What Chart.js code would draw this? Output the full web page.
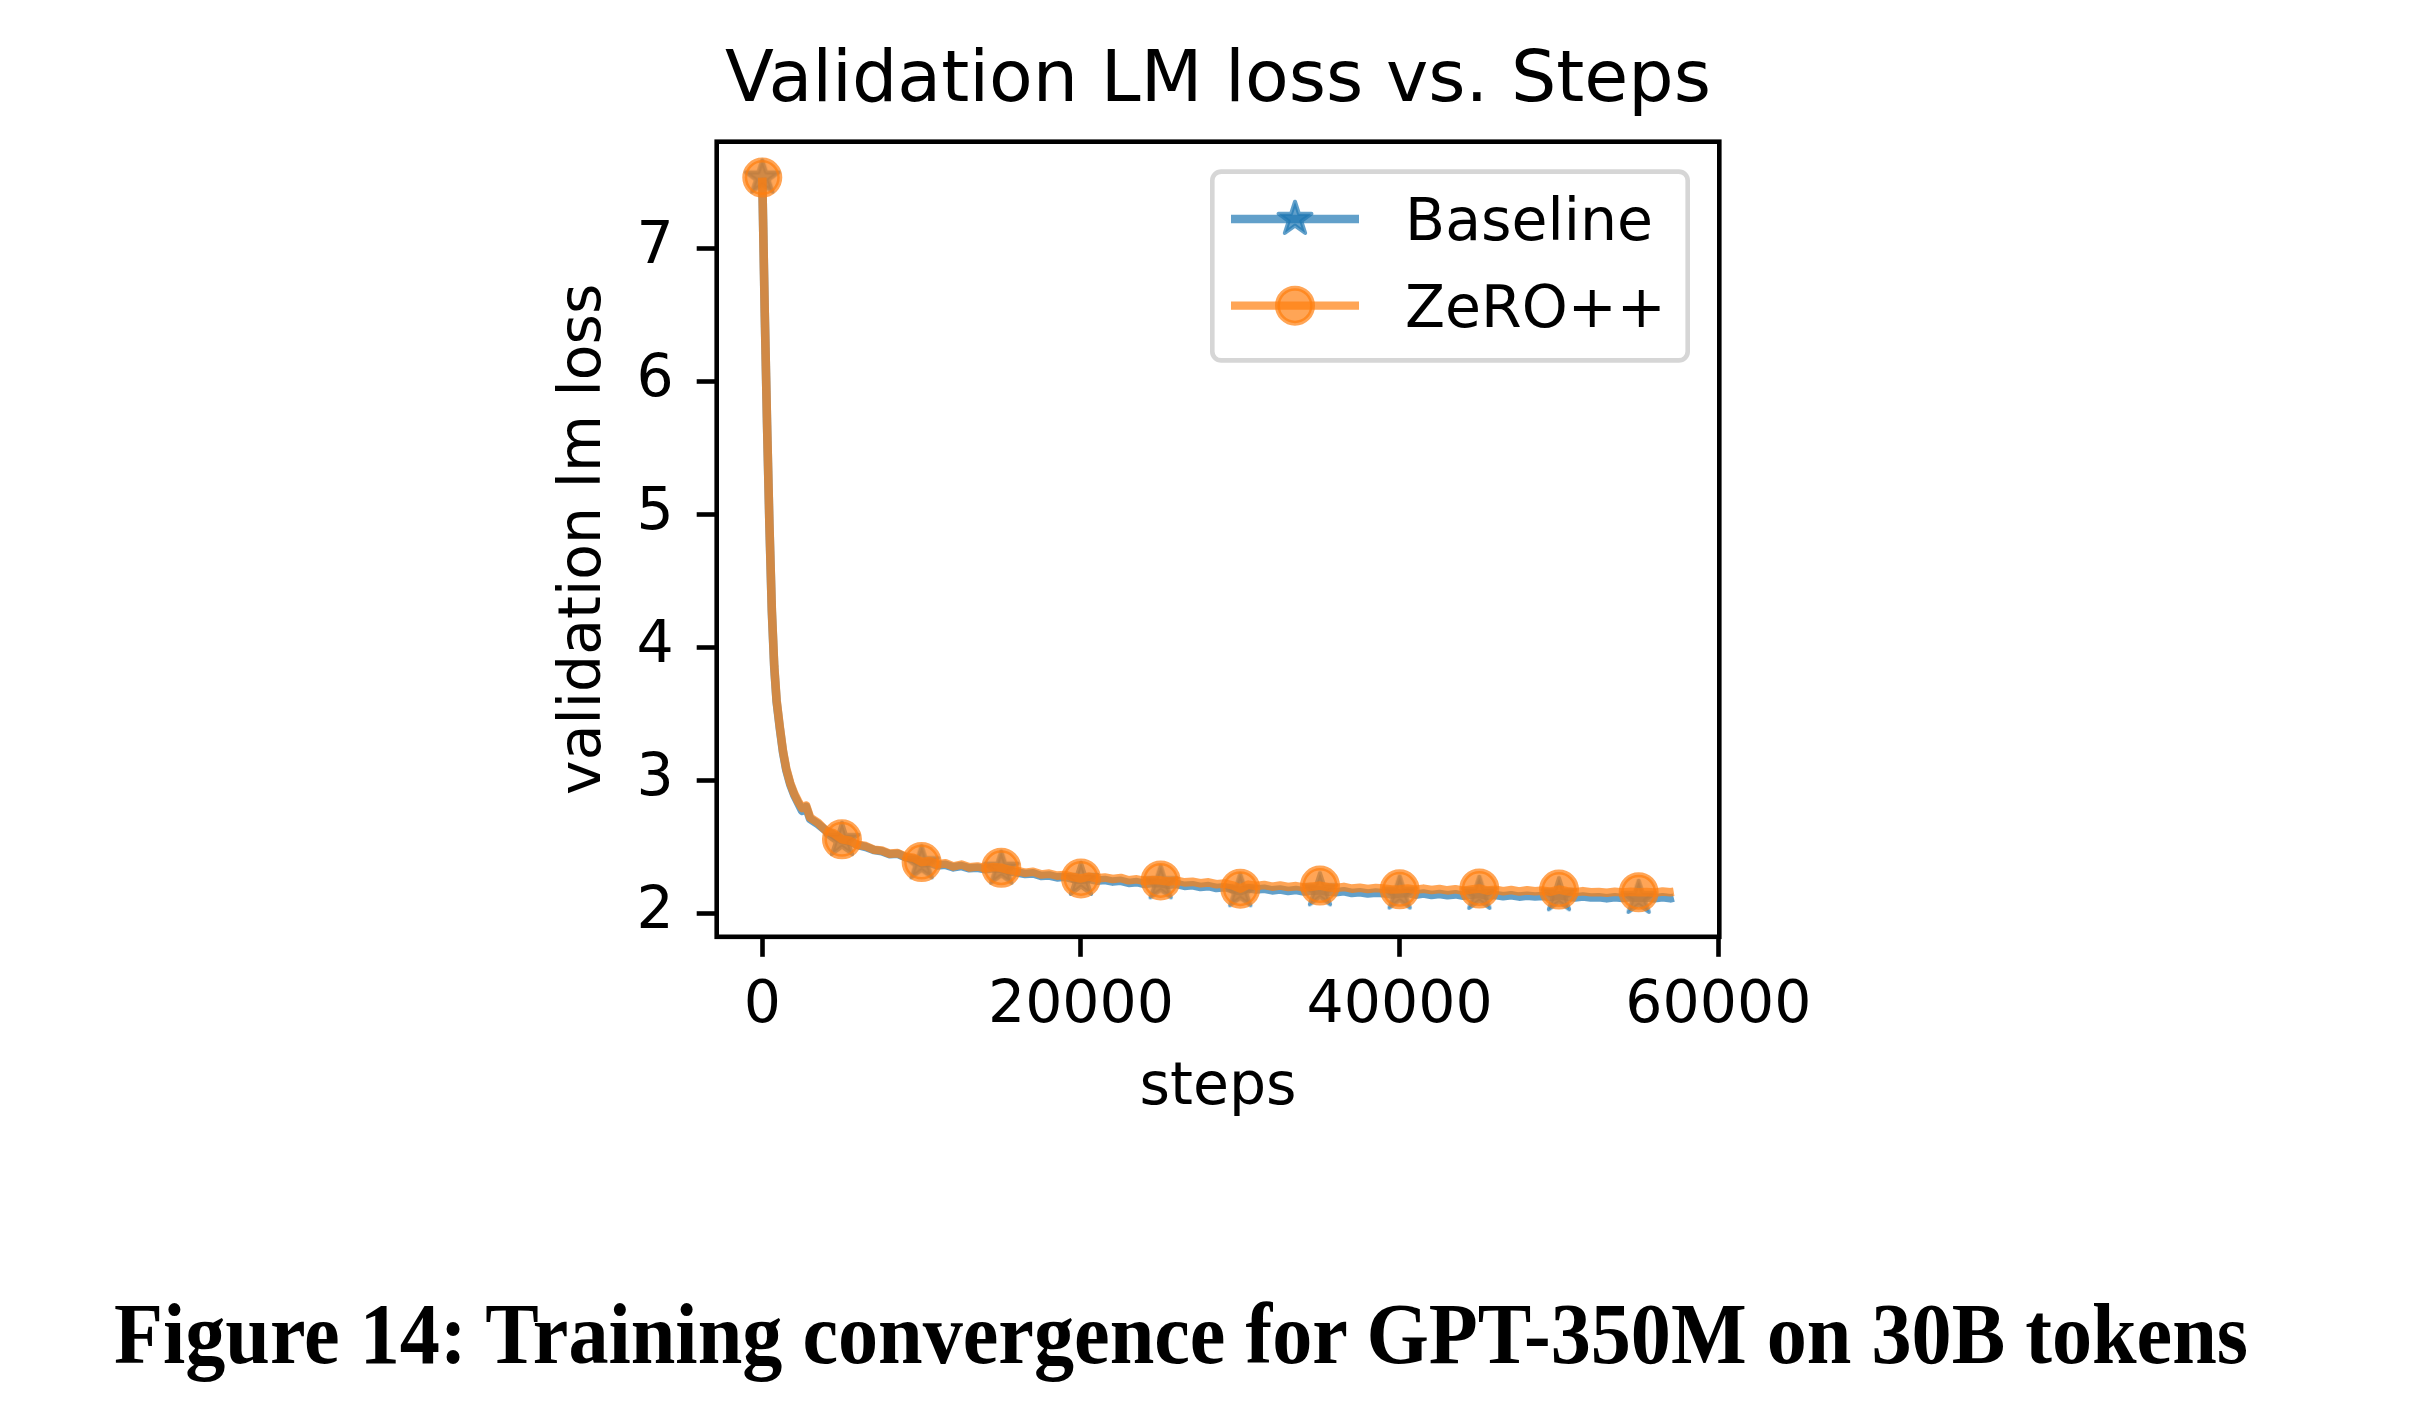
<!DOCTYPE html>
<html lang="en">
<head>
<meta charset="UTF-8">
<title>Validation LM loss vs. Steps</title>
<script src="https://cdn.jsdelivr.net/npm/chart.js"></script>
<style>
    body{
        margin: 0;
        background: #fff;
    }
    .wrap{
        position: relative;
        width: 2412px;
        height: 1418px;
    }
    #lossChart{
        position: absolute;
        left: 0;
        top: 0;
    }
    .caption{
        position: absolute;
        left: 114px;
        top: 1291px;
        font-family: "Liberation Serif", serif;
        font-weight: bold;
        font-size: 86px;
        line-height: 1;
        white-space: nowrap;
        transform-origin: 0 0;
        color: #000;
    }
</style>
</head>
<body>
<div class="wrap">
    <canvas id="lossChart" width="2412" height="1418"></canvas>
    <div class="caption" id="caption">Figure 14: Training convergence for GPT-350M on 30B tokens</div>
</div>
<script>
const steps = [
    0, 150, 300, 450, 600, 750, 900, 1100, 1300, 1500,
    1750, 2000, 2250, 2500, 2750, 3000, 3500, 4000, 4500,
    5000, 5500, 6000, 6500, 7000, 7500, 8000, 8500, 9000, 9500,
    10000, 10500, 11000, 11500, 12000, 12500, 13000, 13500, 14000, 14500,
    15000, 15500, 16000, 16500, 17000, 17500, 18000, 18500, 19000, 19500,
    20000, 20500, 21000, 21500, 22000, 22500, 23000, 23500, 24000, 24500,
    25000, 25500, 26000, 26500, 27000, 27500, 28000, 28500, 29000, 29500,
    30000, 30500, 31000, 31500, 32000, 32500, 33000, 33500, 34000, 34500,
    35000, 35500, 36000, 36500, 37000, 37500, 38000, 38500, 39000, 39500,
    40000, 40500, 41000, 41500, 42000, 42500, 43000, 43500, 44000, 44500,
    45000, 45500, 46000, 46500, 47000, 47500, 48000, 48500, 49000, 49500,
    50000, 50500, 51000, 51500, 52000, 52500, 53000, 53500, 54000, 54500,
    55000, 55500, 56000, 56500, 57000, 57200
];
const baseline = [
    7.53, 6.54, 5.67, 4.91, 4.27, 3.85, 3.59, 3.39, 3.21, 3.08,
    2.97, 2.89, 2.83, 2.77, 2.80, 2.71, 2.67, 2.62, 2.59,
    2.550, 2.540, 2.512, 2.498, 2.475, 2.466, 2.443, 2.447, 2.420, 2.410,
    2.375, 2.380, 2.360, 2.364, 2.345, 2.355, 2.338, 2.342, 2.330, 2.338,
    2.335, 2.316, 2.306, 2.295, 2.300, 2.280, 2.284, 2.270, 2.274, 2.258,
    2.250, 2.258, 2.245, 2.250, 2.238, 2.244, 2.228, 2.234, 2.220, 2.228,
    2.225, 2.214, 2.220, 2.206, 2.210, 2.198, 2.204, 2.190, 2.196, 2.182,
    2.165, 2.188, 2.178, 2.184, 2.172, 2.178, 2.168, 2.175, 2.164, 2.170,
    2.172, 2.162, 2.158, 2.165, 2.152, 2.158, 2.148, 2.155, 2.150, 2.142,
    2.148, 2.152, 2.140, 2.148, 2.138, 2.145, 2.135, 2.142, 2.132, 2.140,
    2.145, 2.132, 2.138, 2.128, 2.135, 2.125, 2.132, 2.126, 2.130, 2.122,
    2.135, 2.125, 2.118, 2.126, 2.118, 2.120, 2.112, 2.120, 2.114, 2.120,
    2.115, 2.118, 2.112, 2.120, 2.112, 2.118
];
const zeropp = [
    7.53, 6.55, 5.68, 4.92, 4.28, 3.86, 3.60, 3.40, 3.22, 3.09,
    2.98, 2.90, 2.84, 2.79, 2.81, 2.72, 2.68, 2.62, 2.60,
    2.556, 2.545, 2.515, 2.505, 2.478, 2.472, 2.448, 2.452, 2.425, 2.418,
    2.385, 2.392, 2.368, 2.375, 2.352, 2.366, 2.345, 2.352, 2.338, 2.348,
    2.342, 2.325, 2.318, 2.305, 2.312, 2.292, 2.298, 2.283, 2.288, 2.272,
    2.262, 2.275, 2.262, 2.268, 2.258, 2.265, 2.248, 2.255, 2.242, 2.250,
    2.247, 2.238, 2.245, 2.232, 2.236, 2.226, 2.232, 2.218, 2.224, 2.210,
    2.185, 2.215, 2.205, 2.212, 2.200, 2.208, 2.198, 2.204, 2.194, 2.200,
    2.208, 2.195, 2.190, 2.198, 2.185, 2.192, 2.182, 2.190, 2.185, 2.178,
    2.180, 2.186, 2.176, 2.185, 2.175, 2.182, 2.172, 2.180, 2.170, 2.178,
    2.186, 2.170, 2.176, 2.166, 2.174, 2.164, 2.172, 2.165, 2.170, 2.162,
    2.178, 2.165, 2.158, 2.166, 2.158, 2.160, 2.154, 2.162, 2.156, 2.162,
    2.158, 2.160, 2.155, 2.164, 2.158, 2.162
];
const markSteps = [0, 5000, 10000, 15000, 20000, 25000, 30000, 35000, 40000, 45000, 50000, 55000];
const xTicks = [0, 20000, 40000, 60000];
const yTicks = [2, 3, 4, 5, 6, 7];

const blue = 'rgba(31,119,180,0.7)';
const orange = 'rgba(255,127,14,0.7)';
const lineW = 8.6;
const fontPx = 58.5;

Chart.defaults.font.family = '"DejaVu Sans"';
Chart.defaults.color = '#000';

function starPath(c, cx, cy, r) {
    c.beginPath();
    for (let k = 0; k < 10; k++) {
        const rad = k % 2 ? r * 0.382 : r;
        const a = -Math.PI / 2 + k * Math.PI / 5;
        c.lineTo(cx + rad * Math.cos(a), cy + rad * Math.sin(a));
    }
    c.closePath();
}
// star marker as an image point style
const star = document.createElement('canvas');
star.width = 52;
star.height = 52;
(function () {
    const c = star.getContext('2d');
    starPath(c, 26, 26, 17.3);
    c.fillStyle = blue;
    c.fill();
    c.lineWidth = 4;
    c.lineJoin = 'round';
    c.strokeStyle = blue;
    c.stroke();
})();

const markerRadius = (r) => (ctx) => markSteps.includes(ctx.raw.x) ? r : 0;

// black box around the plot
const frame = {
    id: 'frame',
    afterDatasetsDraw(chart) {
        const {ctx, chartArea: a} = chart;
        ctx.save();
        ctx.lineWidth = 4.6;
        ctx.strokeStyle = '#000';
        ctx.strokeRect(a.left, a.top, a.right - a.left, a.bottom - a.top);
        ctx.restore();
    }
};

// matplotlib style legend in the upper right
const legendBox = {
    id: 'legendBox',
    afterDraw(chart) {
        const {ctx, chartArea: a} = chart;
        const bw = 480, bh = 193.4, lw = 4.6;
        const bx = a.right - 29.3 - bw;
        const by = a.top + 27.6;
        ctx.save();
        ctx.beginPath();
        ctx.roundRect(bx + lw / 2, by + lw / 2, bw - lw, bh - lw, 9);
        ctx.fillStyle = 'rgba(255,255,255,0.8)';
        ctx.fill();
        ctx.lineWidth = lw;
        ctx.strokeStyle = '#d6d6d6';
        ctx.stroke();

        const rows = [
            {label: 'Baseline', color: blue, y: by + 49.7, mark: 'star'},
            {label: 'ZeRO++', color: orange, y: by + 136.4, mark: 'circle'}
        ];
        rows.forEach(r => {
            ctx.beginPath();
            ctx.moveTo(bx + 21, r.y);
            ctx.lineTo(bx + 149, r.y);
            ctx.lineWidth = 8.3;
            ctx.strokeStyle = r.color;
            ctx.stroke();
            if (r.mark === 'star') {
                ctx.drawImage(star, bx + 85 - 26, r.y - 26);
            } else {
                ctx.beginPath();
                ctx.arc(bx + 85, r.y, 17.5, 0, Math.PI * 2);
                ctx.fillStyle = r.color;
                ctx.fill();
                ctx.lineWidth = 5;
                ctx.strokeStyle = r.color;
                ctx.stroke();
            }
            ctx.fillStyle = '#000';
            ctx.font = fontPx + 'px "DejaVu Sans"';
            ctx.textAlign = 'left';
            ctx.textBaseline = 'alphabetic';
            ctx.fillText(r.label, bx + 195, r.y + 21);
        });
        ctx.restore();
    }
};

const chart = new Chart(document.getElementById('lossChart'), {
    type: 'line',
    data: {
        datasets: [
            {
                label: 'Baseline',
                data: steps.map((s, i) => ({x: s, y: baseline[i]})),
                borderColor: blue,
                borderWidth: lineW,
                borderJoinStyle: 'round',
                tension: 0,
                pointStyle: star,
                pointRadius: markerRadius(17.3),
                pointBackgroundColor: blue,
                pointBorderColor: blue,
                order: 1
            },
            {
                label: 'ZeRO++',
                data: steps.map((s, i) => ({x: s, y: zeropp[i]})),
                borderColor: orange,
                borderWidth: lineW,
                borderJoinStyle: 'round',
                tension: 0,
                pointStyle: 'circle',
                pointRadius: markerRadius(17.5),
                pointBorderWidth: 5,
                pointBackgroundColor: orange,
                pointBorderColor: orange,
                order: 0
            }
        ]
    },
    options: {
        responsive: false,
        animation: false,
        devicePixelRatio: 1,
        events: [],
        layout: {
            padding: {left: 549.2, right: 692.7, top: 0, bottom: 294}
        },
        plugins: {
            legend: {display: false},
            tooltip: {enabled: false},
            title: {
                display: true,
                text: 'Validation LM loss vs. Steps',
                fullSize: false,
                font: {size: 71.5, weight: 'normal'},
                padding: {top: 39.5, bottom: 16.4}
            }
        },
        scales: {
            x: {
                type: 'linear',
                min: -2860,
                max: 60060,
                afterFit: s => { s.height = 187.2; },
                afterBuildTicks: s => { s.ticks = xTicks.map(v => ({value: v})); },
                border: {display: false},
                grid: {drawOnChartArea: false, drawTicks: true, tickLength: 20, tickWidth: 4.6, tickColor: '#000'},
                ticks: {
                    font: {size: fontPx},
                    padding: 15,
                    maxRotation: 0,
                    callback: v => String(v)
                },
                title: {display: true, text: 'steps', font: {size: fontPx}, padding: 0}
            },
            y: {
                min: 1.823,
                max: 7.80,
                afterFit: s => { s.width = 167.5; },
                afterBuildTicks: s => { s.ticks = yTicks.map(v => ({value: v})); },
                border: {display: false},
                grid: {drawOnChartArea: false, drawTicks: true, tickLength: 20, tickWidth: 4.6, tickColor: '#000'},
                ticks: {
                    font: {size: fontPx},
                    padding: 23,
                    callback: v => String(v)
                },
                title: {display: true, text: 'validation lm loss', font: {size: fontPx}, padding: 0}
            }
        }
    },
    plugins: [frame, legendBox]
});

// squeeze the caption to the width used in the figure
const cap = document.getElementById('caption');
const capW = cap.getBoundingClientRect().width;
cap.style.transform = 'scaleX(' + (2134 / capW) + ')';
</script>
</body>
</html>
